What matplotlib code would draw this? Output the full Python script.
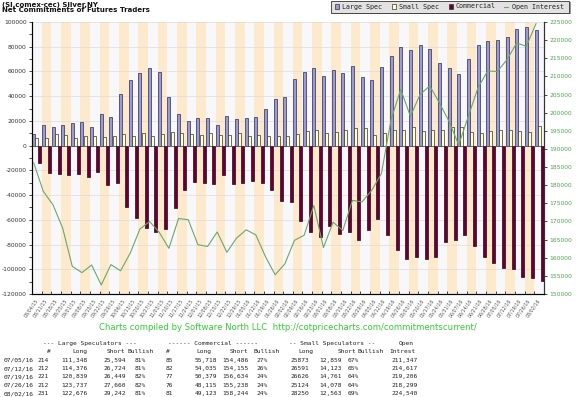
import numpy as np
import matplotlib
matplotlib.use('Agg')
import matplotlib.pyplot as plt
from matplotlib.patches import Rectangle
from matplotlib.ticker import MultipleLocator, StrMethodFormatter

plt.rcParams['axes.unicode_minus'] = False

# weekly report dates
dates = ['08/04/15', '08/11/15', '08/18/15', '08/25/15', '09/01/15', '09/08/15', '09/15/15',
         '09/22/15', '09/29/15', '10/06/15', '10/13/15', '10/20/15', '10/27/15', '11/03/15',
         '11/10/15', '11/17/15', '11/24/15', '12/01/15', '12/08/15', '12/15/15', '12/22/15',
         '12/29/15', '01/05/16', '01/12/16', '01/19/16', '01/26/16', '02/02/16', '02/09/16',
         '02/16/16', '02/23/16', '03/01/16', '03/08/16', '03/15/16', '03/22/16', '03/29/16',
         '04/05/16', '04/12/16', '04/19/16', '04/26/16', '05/03/16', '05/10/16', '05/17/16',
         '05/24/16', '05/31/16', '06/07/16', '06/14/16', '06/21/16', '06/28/16', '07/05/16',
         '07/12/16', '07/19/16', '07/26/16', '08/02/16']

# net positions
large_spec = [9800, 16900, 14700, 16300, 18000, 19000, 14700, 25300, 23400, 41700, 52900, 58600,
              62900, 59700, 39500, 25900, 19600, 22300, 22000, 16300, 23700, 21300, 22300, 22900,
              29700, 38100, 39000, 53700, 59700, 62700, 56400, 61300, 59100, 64600, 55300, 53100,
              63200, 72800, 79800, 77100, 81500, 78200, 66800, 62700, 58000, 70300, 81500, 84700,
              85754, 87652, 94390, 96077, 93434]
small_spec = [6300, 6000, 9500, 9000, 6000, 7400, 7900, 6800, 7400, 9500, 7400, 10000,
              7400, 9300, 11400, 10600, 9800, 8400, 10400, 8400, 8400, 10000, 7900, 8400,
              7400, 7900, 7400, 9300, 12000, 12300, 10400, 11400, 12300, 14400, 13900, 8200,
              10400, 12800, 12800, 14800, 12100, 12800, 13000, 15100, 14700, 11000, 10500, 12000,
              13014, 12468, 11865, 11046, 15687]
commercial = [-14000, -22200, -23200, -24000, -23000, -25700, -21000, -31600, -30000, -50000,
              -58600, -66800, -69500, -67300, -50500, -36000, -29200, -30300, -31000, -23800,
              -31000, -30000, -28900, -30500, -36200, -45000, -45700, -61300, -70200, -74000,
              -65300, -71200, -70000, -76600, -68000, -59400, -72600, -84100, -91400, -90300,
              -91400, -90000, -78000, -76000, -72000, -81500, -90000, -95000, -98768, -100120,
              -106255, -107123, -109121]
open_interest = [186200, 178300, 174600, 168200, 157600, 155900, 158000, 152500, 158100, 156400,
                 161300, 167900, 170000, 167000, 162600, 170800, 170500, 163600, 163100, 167100,
                 161500, 165400, 167700, 166300, 160300, 155300, 158300, 164800, 166200, 174400,
                 162800, 169800, 167500, 175800, 175400, 178600, 183200, 198100, 206400, 199000,
                 205000, 207400, 202700, 197600, 191100, 199000, 206900, 211500, 211347, 214617,
                 219206, 218299, 224540]

# table under the chart
tbl_dates = ['07/05/16', '07/12/16', '07/19/16', '07/26/16', '08/02/16']
ls_traders = [214, 212, 221, 212, 231]
ls_long = [111348, 114376, 120839, 123737, 122676]
ls_short = [25594, 26724, 26449, 27660, 29242]
ls_bullish = [81, 81, 82, 82, 81]
cm_traders = [85, 82, 77, 76, 81]
cm_long = [55718, 54035, 50379, 48115, 49123]
cm_short = [154486, 154155, 156634, 155238, 158244]
cm_bullish = [27, 26, 24, 24, 24]
ss_long = [25873, 26591, 26626, 25124, 28250]
ss_short = [12859, 14123, 14761, 14078, 12563]
ss_bullish = [67, 65, 64, 64, 69]
oi_table = [211347, 214617, 219206, 218299, 224540]

C_LARGE = '#9b9bd2'
C_SMALL = '#ffffcc'
C_COMM = '#660033'
C_OI = '#6aa86a'
C_BAND = '#fde9cc'

W, H = 576, 397
fig = plt.figure(figsize=(W / 100, H / 100), dpi=100)
fig.patch.set_facecolor('white')

ax = fig.add_axes([32 / W, 1 - 294 / H, 512 / W, 272 / H])
ax.set_facecolor('#f8f8fa')
n = len(dates)
x = np.arange(n)

# alternate week shading
for i in range(1, n, 2):
    ax.axvspan(i, i + 1, color=C_BAND, lw=0, zorder=0)

ax.bar(x + 0.02, large_spec, width=0.31, align='edge', color=C_LARGE,
       edgecolor='#2a2a55', linewidth=0.5, zorder=2)
ax.bar(x + 0.34, small_spec, width=0.31, align='edge', color=C_SMALL,
       edgecolor='#333333', linewidth=0.5, zorder=2)
ax.bar(x + 0.66, commercial, width=0.31, align='edge', color=C_COMM,
       edgecolor='#33001a', linewidth=0.5, zorder=2)

ax.set_xlim(0, n)
ax.set_ylim(-120000, 100000)
ax.set_yticks(np.arange(-120000, 100001, 20000))
ax.yaxis.set_minor_locator(MultipleLocator(10000))
ax.yaxis.set_major_formatter(StrMethodFormatter('{x:.0f}'))
ax.tick_params(axis='y', which='both', direction='out', length=2.5, width=0.5,
               labelsize=4.3, labelcolor='#333333', pad=1.5)
ax.set_xticks(x + 0.3)
ax.set_xticklabels(dates, rotation=55, ha='right', rotation_mode='anchor',
                   fontsize=3.4, color='#555555')
ax.tick_params(axis='x', which='major', length=0, pad=3)
ax.set_xticks(np.arange(n + 1), minor=True)
ax.tick_params(axis='x', which='minor', direction='in', length=2.5, width=0.5)
ax.yaxis.grid(True, color='#dcdcdc', lw=0.5)
ax.set_axisbelow(True)
ax.spines['top'].set_visible(False)
for s in ['left', 'bottom', 'right']:
    ax.spines[s].set_color('#333333')
    ax.spines[s].set_linewidth(0.8)

ax2 = ax.twinx()
ax2.plot(x + 0.17, open_interest, color=C_OI, lw=0.8, zorder=3)
ax2.set_ylim(150000, 225000)
ax2.set_yticks(np.arange(150000, 225001, 5000))
ax2.yaxis.set_major_formatter(StrMethodFormatter('{x:.0f}'))
ax2.tick_params(axis='y', direction='out', length=2.5, width=0.5, labelsize=4.3,
                labelcolor='#4aa64a', pad=1.5)
ax2.spines['top'].set_visible(False)
ax2.spines['right'].set_color('#333333')
ax2.spines['right'].set_linewidth(0.8)

# overlay in pixel coordinates for titles, legend, footer and table
ov = fig.add_axes([0, 0, 1, 1], zorder=10)
ov.set_xlim(0, W)
ov.set_ylim(H, 0)
ov.axis('off')

ov.text(2, 4.5, '(SI,comex-cec) Silver,NY', fontsize=5, fontweight='bold',
        va='center', color='#111111')
ov.text(2, 10.5, 'Net Commitments of Futures Traders', fontsize=5, fontweight='bold',
        va='center', color='#111111')

# legend box
ov.add_patch(Rectangle((333, 2), 238, 12, fc='#9a9a9a', ec='none'))
ov.add_patch(Rectangle((331, 0.5), 238, 12, fc='#e2e2e2', ec='#333333', lw=0.6))
mono = 'DejaVu Sans Mono'
for sx, tx, col, lab in [(334.5, 342.5, C_LARGE, 'Large Spec'),
                         (391.5, 399, C_SMALL, 'Small Spec'),
                         (448.5, 456, C_COMM, 'Commercial')]:
    ov.add_patch(Rectangle((sx, 4.2), 4.5, 4.5, fc=col, ec='#333333', lw=0.5))
    ov.text(tx, 6.5, lab, fontsize=4.8, family=mono, va='center', color='#222222')
ov.plot([504, 508], [6.5, 6.5], color=C_OI, lw=0.8)
ov.text(512.5, 6.5, 'Open Interest', fontsize=4.8, family=mono, va='center', color='#222222')

ov.text(288, 328, 'Charts compiled by Software North LLC  http://cotpricecharts.com/commitmentscurrent/',
        ha='center', va='center', fontsize=6.15, color='#33cc33')

# table
tsize = 4.5
tcol = '#222222'
head1 = [(43, '--- Large Speculators ---'), (168, '------ Commercial ------'),
         (289, '-- Small Speculators --'), (399, 'Open')]
head2 = [(47, '#'), (72, 'Long'), (106.5, 'Short'), (128, 'Bullish'), (166, '#'),
         (196, 'Long'), (230, 'Short'), (253, 'Bullish'), (298, 'Long'),
         (337.5, 'Short'), (358, 'Bullish'), (389, 'Intrest')]
for px, t in head1:
    ov.text(px, 343.5, t, fontsize=tsize, family=mono, va='center', color=tcol)
for px, t in head2:
    ov.text(px, 351.9, t, fontsize=tsize, family=mono, va='center', color=tcol)

cols_x = [3.3, 37, 61.7, 103.3, 135, 165.7, 194.3, 222.7, 256.7, 290, 319.3, 347.7, 391]
for r in range(len(tbl_dates)):
    fields = [tbl_dates[r], str(ls_traders[r]), f'{ls_long[r]:,}', f'{ls_short[r]:,}',
              f'{ls_bullish[r]}%', str(cm_traders[r]), f'{cm_long[r]:,}', f'{cm_short[r]:,}',
              f'{cm_bullish[r]}%', str(ss_long[r]), f'{ss_short[r]:,}', f'{ss_bullish[r]}%',
              f'{oi_table[r]:,}']
    yy = 360.2 + r * 8.35
    for px, t in zip(cols_x, fields):
        ov.text(px, yy, t, fontsize=tsize, family=mono, va='center', color=tcol)

fig.savefig('out.png', dpi=100)
